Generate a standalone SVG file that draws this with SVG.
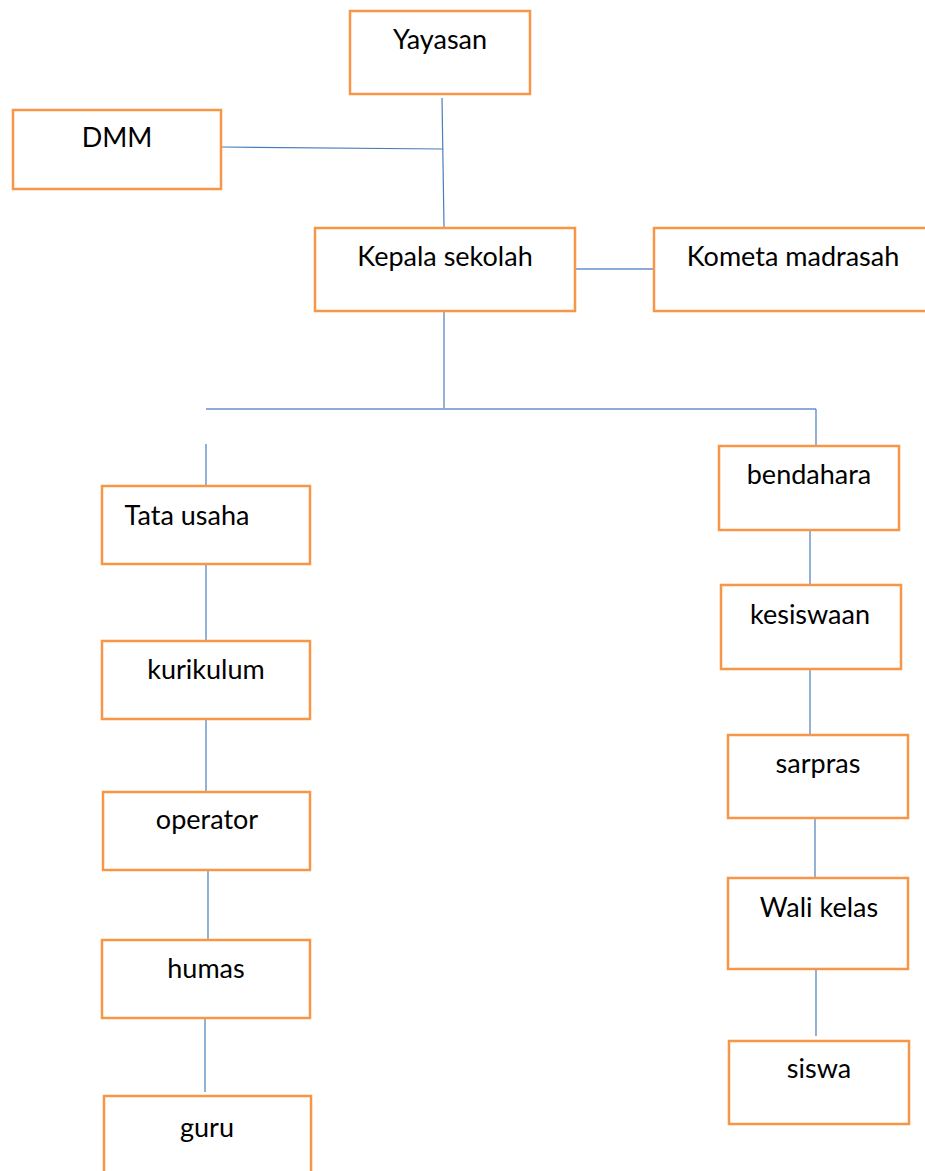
<svg xmlns="http://www.w3.org/2000/svg" width="925" height="1171" viewBox="0 0 925 1171">
<style>
.box{fill:#ffffff;stroke:#F79646;stroke-width:2.5}
.lbl{font-family:Lato,"Open Sans","Liberation Sans",sans-serif;font-size:27px;fill:#000000;text-anchor:middle}
.ln{stroke:#4A7EBB;stroke-width:1.2;fill:none}
.ln2{stroke:#8EAADB;stroke-width:2.2;fill:none}
</style>
<rect width="925" height="1171" fill="#ffffff"/>
<g id="connectors">
<line class="ln" x1="442" y1="98" x2="444" y2="227"/>
<line class="ln" x1="221" y1="147" x2="443" y2="149"/>
<line class="ln2" x1="575" y1="269" x2="653" y2="269"/>
<line class="ln" x1="444" y1="311" x2="444" y2="409"/>
<line class="ln2" x1="206" y1="409" x2="816" y2="409"/>
<line class="ln" x1="816" y1="409" x2="816" y2="446"/>
<line class="ln" x1="206" y1="444" x2="206" y2="486"/>
<line class="ln" x1="206" y1="564" x2="206" y2="641"/>
<line class="ln" x1="206" y1="719" x2="206" y2="792"/>
<line class="ln" x1="208" y1="870" x2="208" y2="940"/>
<line class="ln" x1="205" y1="1018" x2="205" y2="1092"/>
<line class="ln" x1="810" y1="530" x2="810" y2="585"/>
<line class="ln" x1="810" y1="669" x2="810" y2="735"/>
<line class="ln" x1="815" y1="818" x2="815" y2="878"/>
<line class="ln" x1="816" y1="969" x2="816" y2="1036"/>
</g>
<g id="yayasan"><rect class="box" x="350" y="11" width="180" height="83"/><text class="lbl" x="440" y="49">Yayasan</text></g>
<g id="dmm"><rect class="box" x="13" y="110" width="208" height="79"/><text class="lbl" x="117" y="147">DMM</text></g>
<g id="kepala-sekolah"><rect class="box" x="315" y="228" width="260" height="83"/><text class="lbl" x="445" y="266">Kepala sekolah</text></g>
<g id="kometa-madrasah"><rect class="box" x="654" y="228" width="290" height="83"/><text class="lbl" x="793" y="266">Kometa madrasah</text></g>
<g id="tata-usaha"><rect class="box" x="102" y="486" width="208" height="78"/><text class="lbl" x="187" y="525">Tata usaha</text></g>
<g id="kurikulum"><rect class="box" x="102" y="641" width="208" height="78"/><text class="lbl" x="206" y="679">kurikulum</text></g>
<g id="operator"><rect class="box" x="103" y="792" width="207" height="78"/><text class="lbl" x="207" y="829">operator</text></g>
<g id="humas"><rect class="box" x="102" y="940" width="208" height="78"/><text class="lbl" x="206" y="978">humas</text></g>
<g id="guru"><rect class="box" x="104" y="1096" width="207" height="90"/><text class="lbl" x="207" y="1137">guru</text></g>
<g id="bendahara"><rect class="box" x="719" y="446" width="180" height="84"/><text class="lbl" x="809" y="484">bendahara</text></g>
<g id="kesiswaan"><rect class="box" x="721" y="585" width="180" height="84"/><text class="lbl" x="810" y="624">kesiswaan</text></g>
<g id="sarpras"><rect class="box" x="728" y="735" width="180" height="83"/><text class="lbl" x="818" y="773">sarpras</text></g>
<g id="wali-kelas"><rect class="box" x="728" y="878" width="180" height="91"/><text class="lbl" x="819" y="917">Wali kelas</text></g>
<g id="siswa"><rect class="box" x="729" y="1041" width="180" height="83"/><text class="lbl" x="819" y="1078">siswa</text></g>
</svg>
